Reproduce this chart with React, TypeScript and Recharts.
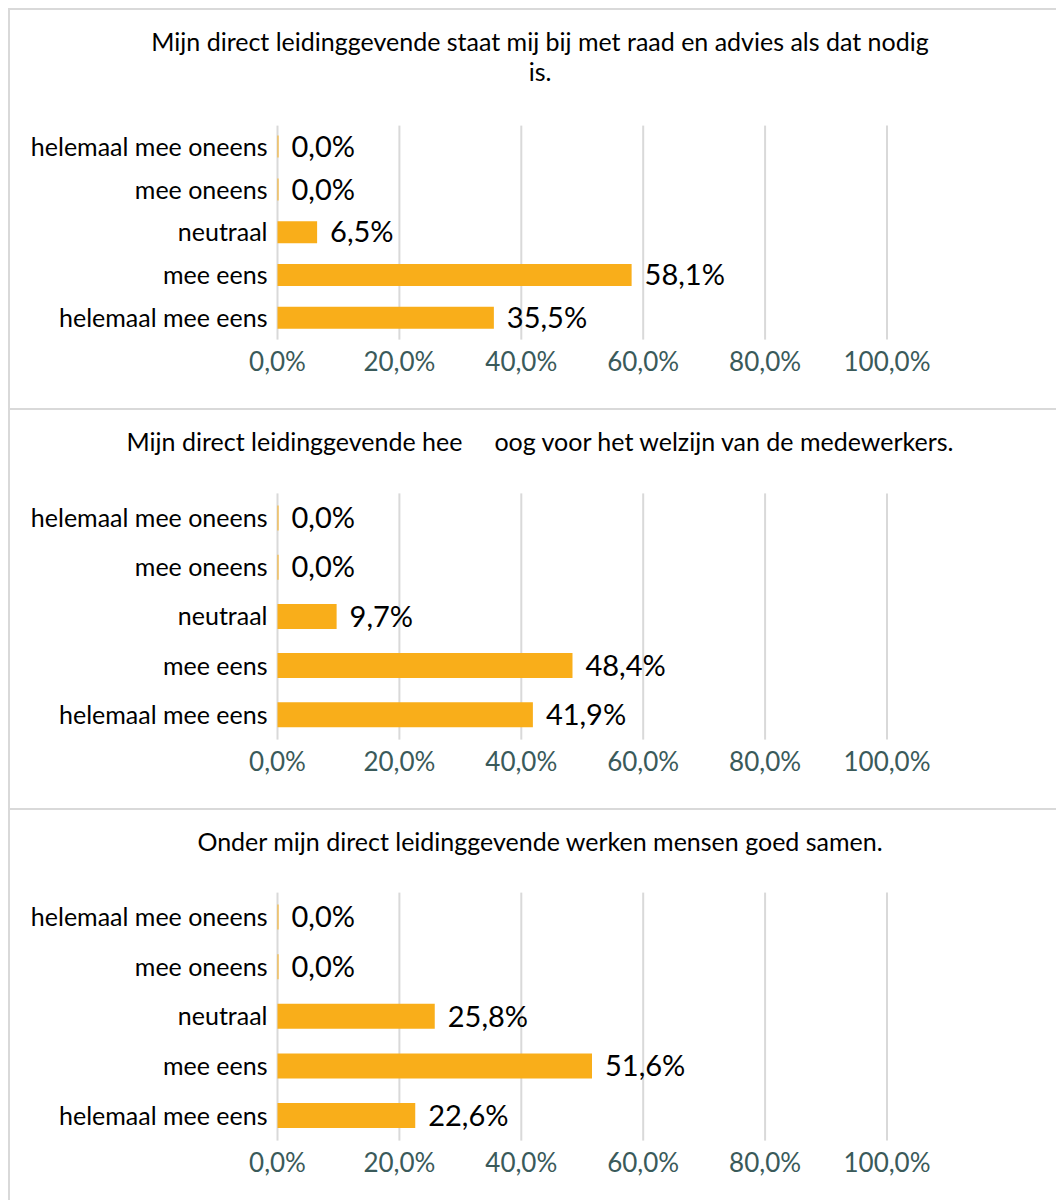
import React from 'react';
import { BarChart, Bar, XAxis, YAxis, CartesianGrid, LabelList } from 'recharts';

const categories = ['helemaal mee oneens', 'mee oneens', 'neutraal', 'mee eens', 'helemaal mee eens'];
const title1Lines = ['Mijn direct leidinggevende staat mij bij met raad en advies als dat nodig', 'is.'];
const title2Lines = ['Mijn direct leidinggevende hee     oog voor het welzijn van de medewerkers.'];
const title3Lines = ['Onder mijn direct leidinggevende werken mensen goed samen.'];
const values1 = [0, 0, 6.5, 58.1, 35.5];
const values2 = [0, 0, 9.7, 48.4, 41.9];
const values3 = [0, 0, 25.8, 51.6, 22.6];
const xTicks = [0, 20, 40, 60, 80, 100];

const FONT = 'Lato, Carlito, Calibri, sans-serif';
const BAR = '#F9AE1A';
const GRID = '#D9D9D9';
const TICK = '#3A5A5A';

const fmt = (v: number) => `${Number(v).toFixed(1).replace('.', ',')}%`;

const build = (vals: number[]) => categories.map((c, i) => ({ cat: c, value: vals[i] }));

type PanelProps = {
  top: number;
  lines: string[];
  values: number[];
  plotTop: number;
  plotBottom: number;
  barSize: number;
};

function Panel({ top, lines, values, plotTop, plotBottom, barSize }: PanelProps) {
  const H = 400;
  const xAxisH = 40;
  const data = build(values);
  return (
    <div style={{ position: 'absolute', left: 0, top, width: 1064, height: H }}>
      <div
        style={{
          position: 'absolute',
          left: 0,
          top: 0,
          width: 1064,
          height: H,
          boxSizing: 'border-box',
          borderTop: `2px solid ${GRID}`,
          borderLeft: `2px solid ${GRID}`,
        }}
      />
      <div
        style={{
          position: 'absolute',
          left: 0,
          top: 18,
          width: 1064,
          textAlign: 'center',
          fontFamily: FONT,
          fontSize: 25,
          lineHeight: '30px',
          color: '#000',
          whiteSpace: 'pre',
        }}
      >
        {lines.map((l, i) => (
          <div key={i}>{l}</div>
        ))}
      </div>
      <div style={{ position: 'absolute', left: 0, top: 0 }}>
        <BarChart
          width={1064}
          height={H}
          data={data}
          layout="vertical"
          margin={{ top: plotTop, right: 185, bottom: H - plotBottom - xAxisH, left: 0 }}
        >
          <CartesianGrid horizontal={false} vertical={true} stroke={GRID} strokeWidth={2} />
          <XAxis
            type="number"
            domain={[0, 100]}
            ticks={xTicks}
            tickFormatter={fmt}
            axisLine={false}
            tickLine={false}
            height={xAxisH}
            tickMargin={7}
            tick={{ fill: TICK, fontSize: 26, fontFamily: FONT }}
            interval={0}
          />
          <YAxis
            type="category"
            dataKey="cat"
            width={269.5}
            axisLine={false}
            tickLine={false}
            tickMargin={4}
            tick={{ fill: '#000', fontSize: 25, fontFamily: FONT }}
            interval={0}
          />
          <Bar dataKey="value" fill={BAR} isAnimationActive={false} barSize={barSize} minPointSize={1}>
            <LabelList
              dataKey="value"
              position="right"
              offset={13}
              formatter={(v: any) => fmt(v)}
              style={{ fill: '#000', fontSize: 29, fontFamily: FONT }}
            />
          </Bar>
        </BarChart>
      </div>
    </div>
  );
}

export default function App() {
  return (
    <div style={{ position: 'relative', width: 1056, height: 1192, overflow: 'hidden' }}>
      <Panel top={0} lines={title1Lines} values={values1} plotTop={117.6} plotBottom={331.6} barSize={22} />
      <Panel top={400} lines={title2Lines} values={values2} plotTop={85.4} plotBottom={331.6} barSize={25} />
      <Panel top={800} lines={title3Lines} values={values3} plotTop={84.6} plotBottom={332.6} barSize={25} />
    </div>
  );
}
